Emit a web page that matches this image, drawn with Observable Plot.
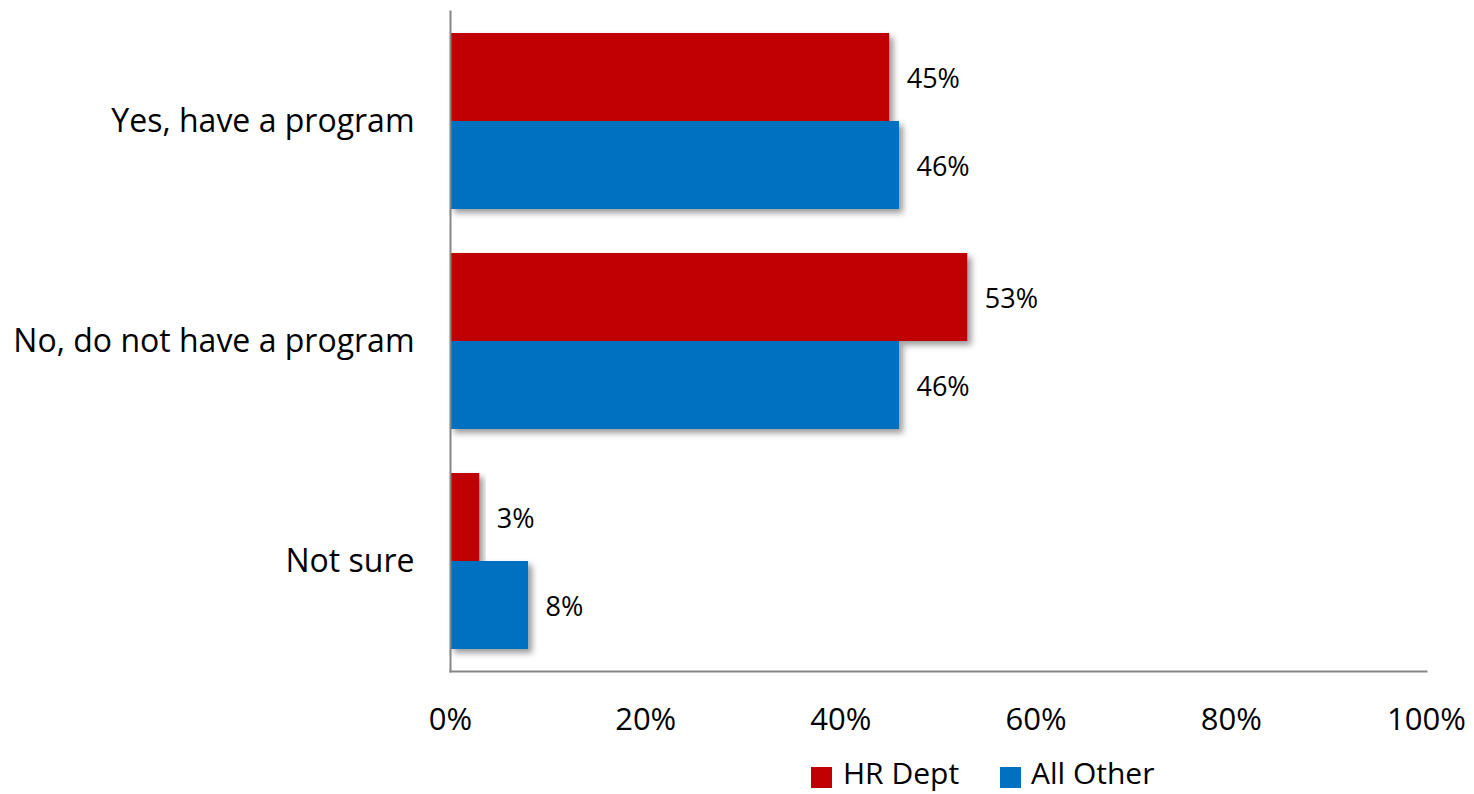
<!DOCTYPE html>
<html><head><meta charset="utf-8">
<script src="https://cdn.jsdelivr.net/npm/d3@7"></script>
<script src="https://cdn.jsdelivr.net/npm/@observablehq/plot@0.6"></script>
<style>
body{margin:0;background:#fff;font-family:"Open Sans",sans-serif;}
#chart{position:relative;width:1474px;height:794px;}
.legend{position:absolute;top:750px;left:0;width:1474px;height:44px;}
.sw{position:absolute;top:17px;width:21px;height:21px;}
.lt{position:absolute;top:2px;font-size:30px;line-height:normal;color:#000;white-space:nowrap;}
</style>
</head><body><div id="chart"></div>
<script>
const categories = ["Yes, have a program", "No, do not have a program", "Not sure"];
const series = ["HR Dept", "All Other"];
const hrValues = [45, 53, 3];
const otherValues = [46, 46, 8];
const colors = ["#c00000", "#0070c0"];
const xTicks = [0, 20, 40, 60, 80, 100];

const data = categories.flatMap((c, i) => [
  {category: c, series: series[0], value: hrValues[i]},
  {category: c, series: series[1], value: otherValues[i]}
]);

const plot = Plot.plot({
  width: 1474, height: 750,
  marginLeft: 450, marginRight: 48, marginTop: 11, marginBottom: 79,
  style: {fontFamily: "Open Sans", background: "white", color: "black"},
  x: {domain: [0, 100], axis: null},
  y: {domain: series, padding: 0, axis: null},
  fy: {domain: categories, paddingInner: 0.2, paddingOuter: 0.1, axis: null},
  color: {domain: series, range: colors},
  marks: [
    Plot.barX(data, {fy: "category", y: "series", x: "value", fill: "series"}),
    Plot.text(data, {fy: "category", y: "series", x: "value", text: d => d.value + "%",
      textAnchor: "start", dx: 17, dy: 2, fontSize: 27, fill: "black"}),
    Plot.frame({anchor: "left", facet: "super", insetTop: -22, insetBottom: -22, stroke: "#868686", strokeWidth: 2}),
    Plot.frame({anchor: "bottom", facet: "super", insetBottom: -22, stroke: "#868686", strokeWidth: 2}),
    Plot.axisX({ticks: xTicks, tickFormat: d => d + "%", tickSize: 0, tickPadding: 58, fontSize: 31, label: null}),
    Plot.axisFy({anchor: "left", tickSize: 0, tickPadding: 36, fontSize: 32, label: null})
  ]
});

const svg = d3.select(plot);
const defs = svg.insert("defs", ":first-child");
const f = defs.append("filter").attr("id", "shadow").attr("x", "-10%").attr("y", "-10%").attr("width", "130%").attr("height", "130%");
f.append("feDropShadow").attr("dx", 4).attr("dy", 4).attr("stdDeviation", 3).attr("flood-color", "#000").attr("flood-opacity", 0.4);
svg.selectAll("g[aria-label='bar'] rect").attr("filter", "url(#shadow)");

const chart = document.getElementById("chart");
chart.appendChild(plot);

const legend = document.createElement("div");
legend.className = "legend";
const legendPos = [{sw: 811, lt: 843}, {sw: 1000, lt: 1031}];
series.forEach((s, i) => {
  const sw = document.createElement("div");
  sw.className = "sw"; sw.style.left = legendPos[i].sw + "px"; sw.style.background = colors[i];
  const lt = document.createElement("div");
  lt.className = "lt"; lt.style.left = legendPos[i].lt + "px"; lt.textContent = s;
  legend.appendChild(sw); legend.appendChild(lt);
});
chart.appendChild(legend);
</script>
</body></html>
